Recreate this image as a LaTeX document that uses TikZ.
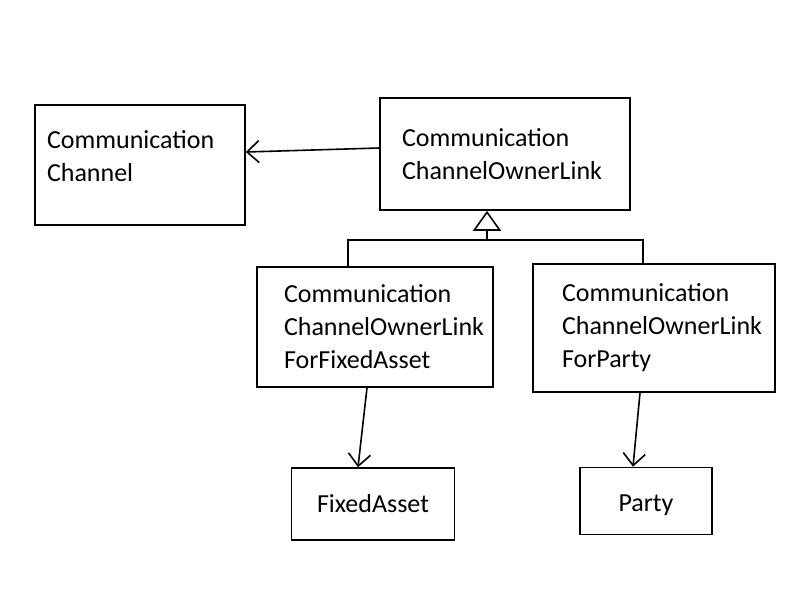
\documentclass[tikz,border=0pt]{standalone}
\usepackage{fontspec}
\setmainfont{Carlito}
\usetikzlibrary{arrows.meta}

\begin{document}
\begin{tikzpicture}[x=1pt,y=-1pt,
    block_left/.style ={rectangle, draw=black, line width=1.6pt, fill=white,
      align=left, inner ysep=0pt,
      font=\fontsize{26}{33}\selectfont},
    block_center/.style ={rectangle, draw=black, line width=1.6pt, fill=white,
      align=center, font=\fontsize{26}{33}\selectfont},
    line/.style ={draw, line width=1.6pt, -{Straight Barb[length=12pt,width=22pt]}},
    inherit/.style ={draw, line width=1.6pt, -{Triangle[open,length=20pt,width=28pt]}}]
    \useasboundingbox (0,0) rectangle (800,600);
    % top row
    \node [block_left, minimum width=210pt, minimum height=120pt,
      text width=186pt, inner xsep=12pt] (channel) at (140,165)
      {Communication\\Channel\\[-15pt]\mbox{}};
    \node [block_left, minimum width=250pt, minimum height=112pt,
      text width=206pt, inner xsep=22pt] (ownerlink) at (505,154)
      {Communication\\ChannelOwnerLink};
    % middle row
    \node [block_left, minimum width=236pt, minimum height=120pt,
      text width=182pt, inner xsep=27pt] (linkasset) at (375,327)
      {Communication\\ChannelOwnerLink\\ForFixedAsset};
    \node [block_left, minimum width=242pt, minimum height=128pt,
      text width=184pt, inner xsep=29pt] (linkparty) at (654,328)
      {Communication\\ChannelOwnerLink\\ForParty};
    % bottom row
    \node [block_center, minimum width=163pt, minimum height=72pt] (asset) at (373,504) {FixedAsset};
    \node [block_center, minimum width=132pt, minimum height=67pt,
      text height=26pt] (party) at (646,501) {Party};
    \coordinate (bar) at (487,240);
    % connecting nodes with paths
    \path [line] ([yshift=6pt]ownerlink.west) -- ([yshift=13pt]channel.east);
    \path [inherit] (bar) -- (ownerlink.south -| bar);
    \draw [line width=1.6pt] ([xshift=-27pt]linkasset.north) |- (bar)
      -| ([xshift=-11pt]linkparty.north);
    \path [line] ([xshift=-8pt]linkasset.south) -- ([xshift=-15pt]asset.north);
    \path [line] ([xshift=-14pt]linkparty.south) -- ([xshift=-13pt]party.north);
\end{tikzpicture}
\end{document}
